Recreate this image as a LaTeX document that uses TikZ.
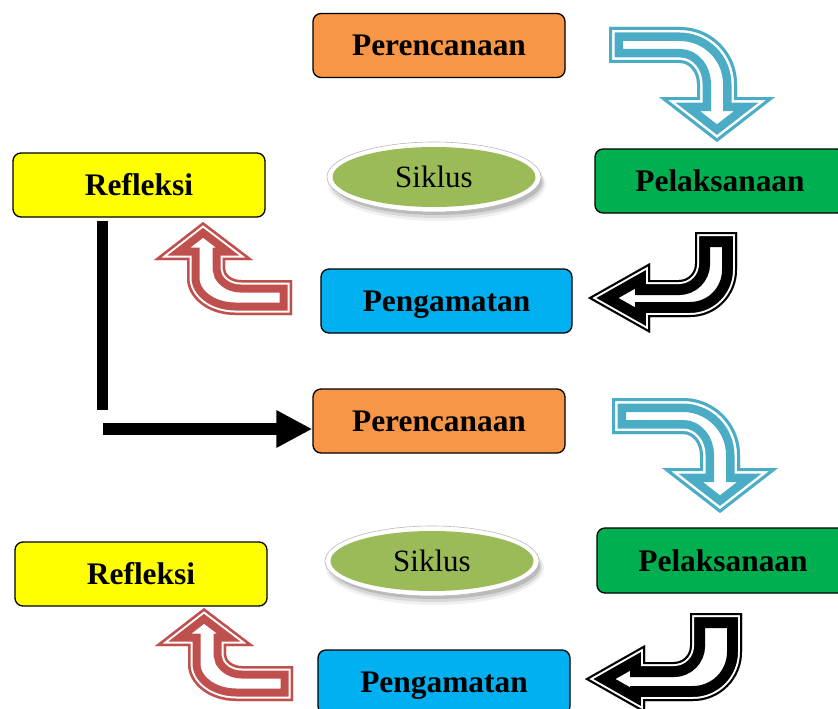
\documentclass[tikz,border=0pt]{standalone}
\usepackage{fontspec}
\setmainfont{Liberation Serif}
\usetikzlibrary{arrows.meta,shapes.geometric}
\definecolor{cOrange}{HTML}{F79646}
\definecolor{cGreen}{HTML}{00B050}
\definecolor{cYellow}{HTML}{FFFF00}
\definecolor{cBlue}{HTML}{00B0F0}
\definecolor{cOlive}{HTML}{9BBB59}
\definecolor{cTeal}{HTML}{4BACC6}
\definecolor{cRed}{HTML}{C0504D}
% #1 colour, #2 outer width, #3 gap width, #4 thin width, #5 path
\newcommand{\fancyarrow}[5]{%
  \begin{scope}
    \clip #5;
    \fill[white] #5;
    \draw[#1, line width=#2, line join=miter, miter limit=20] #5;
    \draw[white, line width=#3, line join=miter, miter limit=20] #5;
    \draw[#1, line width=#4, line join=miter, miter limit=20] #5;
  \end{scope}}
\newcommand{\siklusring}[2]{%
  \fill[black, opacity=0.06] (#1+3,#2+7) ellipse [x radius=109, y radius=37];
  \fill[black, opacity=0.10] (#1+3,#2+6) ellipse [x radius=107, y radius=35];
  \fill[black, opacity=0.14] (#1+3,#2+5) ellipse [x radius=105, y radius=33];
  \fill[white, draw=gray!55, line width=0.6pt] (#1,#2) ellipse [x radius=107, y radius=35];}
\begin{document}
\begin{tikzpicture}[x=1pt,y=-1pt,
  stagebox/.style={draw=black, line width=1.3pt, rounded corners=8pt,
    minimum width=252pt, minimum height=64pt, inner sep=0pt,
    text height=21pt, text depth=-1pt,
    font=\fontsize{31.4}{36}\selectfont\bfseries},
  siklusnode/.style={ellipse, fill=cOlive, minimum width=203pt, minimum height=60pt,
    inner sep=0pt, text height=21pt, text depth=0pt, font=\fontsize{31}{36}\selectfont},
  conn/.style={draw=black, line cap=butt}]
\useasboundingbox (0,0) rectangle (838,709);
\clip (0,0) rectangle (838,709);

% ---------- first cycle ----------
\node[stagebox, fill=cOrange] (pr1) at (439,45.5) {Perencanaan};
\node[stagebox, fill=cGreen, minimum width=250pt] (pe1) at (720,181) {Pelaksanaan};
\node[stagebox, fill=cYellow] (re1) at (139,185) {Refleksi};
\node[stagebox, fill=cBlue, minimum width=251pt] (pg1) at (446.5,301) {Pengamatan};
\siklusring{434}{177}
\node[siklusnode] (si1) at (434,177) {Siklus};

\fancyarrow{cTeal}{28pt}{11pt}{6pt}{(609,27) -- (680,27) arc[start angle=-90, end angle=0, radius=57] -- (737,97) -- (775,97) -- (717,142) -- (659,97) -- (697,97) -- (697,84) arc[start angle=0, end angle=-90, x radius=17, y radius=21] -- (609,63) -- cycle}

\fancyarrow{black}{30pt}{8pt}{4pt}{(695,232) -- (737,232) -- (737,270) arc[start angle=0, end angle=90, radius=47] -- (650,317) -- (650,333) -- (588,298) -- (650,263) -- (650,280) -- (679,280) arc[start angle=90, end angle=0, radius=16] -- cycle}

\fancyarrow{cRed}{25pt}{9pt}{5pt}{(203,222) -- (253,260) -- (225,260) -- (225,268) arc[start angle=180, end angle=90, x radius=16, y radius=12] -- (292,280) -- (292,315) -- (235,315) arc[start angle=90, end angle=180, x radius=48, y radius=37] -- (187,260) -- (154,260) -- cycle}

% ---------- second cycle ----------
\node[stagebox, fill=cOrange] (pr2) at (439,421) {Perencanaan};
\node[stagebox, fill=cGreen, minimum height=65pt] (pe2) at (723,560.5) {Pelaksanaan};
\node[stagebox, fill=cYellow] (re2) at (141,574) {Refleksi};
\node[stagebox, fill=cBlue] (pg2) at (444,682) {Pengamatan};
\siklusring{432}{561}
\node[siklusnode] (si2) at (432,561) {Siklus};

\begin{scope}[shift={(3,371)}]
\fancyarrow{cTeal}{28pt}{11pt}{6pt}{(609,27) -- (680,27) arc[start angle=-90, end angle=0, radius=57] -- (737,97) -- (775,97) -- (717,142) -- (659,97) -- (697,97) -- (697,84) arc[start angle=0, end angle=-90, x radius=17, y radius=21] -- (609,63) -- cycle}
\end{scope}

\fancyarrow{black}{30pt}{8pt}{4pt}{(690,613) -- (742,613) -- (742,652) arc[start angle=0, end angle=90, radius=49] -- (645,701) -- (645,713) -- (585,679) -- (645,645) -- (645,662) -- (674,662) arc[start angle=90, end angle=0, radius=16] -- cycle}

\begin{scope}[shift={(1,386)}]
\fancyarrow{cRed}{25pt}{9pt}{5pt}{(203,222) -- (253,260) -- (225,260) -- (225,268) arc[start angle=180, end angle=90, x radius=16, y radius=12] -- (292,280) -- (292,315) -- (235,315) arc[start angle=90, end angle=180, x radius=48, y radius=37] -- (187,260) -- (154,260) -- cycle}
\end{scope}

% ---------- link from first Refleksi to second Perencanaan ----------
\coordinate (v2) at (102,410);
\coordinate (h1) at (103,429);
\draw[conn, line width=11pt] ([yshift=-3pt]v2 |- re1.south) -- (v2);
\draw[conn, line width=12pt, -{Triangle[length=36pt, width=35pt]}] (h1) -- (h1 -| pr2.west);
\end{tikzpicture}
\end{document}
